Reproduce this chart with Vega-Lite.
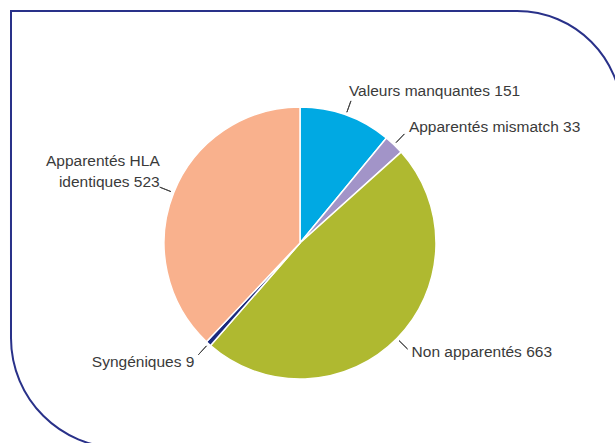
{
  "$schema": "https://vega.github.io/schema/vega-lite/v6.json",
  "width": 611,
  "height": 437,
  "autosize": {"type": "none"},
  "padding": {"left": 11, "top": 11, "right": 0, "bottom": 0},
  "background": "white",
  "config": {
    "view": {"stroke": null},
    "text": {"font": "Liberation Sans", "fontSize": 15.5, "fill": "#3a3a3a"}
  },
  "data": {
    "values": [
      {"categorie": "Valeurs manquantes", "effectif": 151, "ordre": 1, "libelle": "Valeurs manquantes 151"},
      {"categorie": "Apparentés mismatch", "effectif": 33, "ordre": 2, "libelle": "Apparentés mismatch 33"},
      {"categorie": "Non apparentés", "effectif": 663, "ordre": 3, "libelle": "Non apparentés 663"},
      {"categorie": "Syngéniques", "effectif": 9, "ordre": 4, "libelle": "Syngéniques 9"},
      {"categorie": "Apparentés HLA identiques", "effectif": 523, "ordre": 5, "libelle": ["Apparentés HLA", "identiques 523"]}
    ]
  },
  "layer": [
    {
      "data": {"values": [{}]},
      "mark": {"type": "rect", "filled": false, "stroke": "#293189", "strokeWidth": 2, "cornerRadiusTopRight": 105, "cornerRadiusBottomLeft": 110},
      "encoding": {
        "x": {"datum": 0, "type": "quantitative", "scale": {"domain": [0, 1], "nice": false, "zero": false}, "axis": null},
        "x2": {"datum": 1},
        "y": {"datum": 0, "type": "quantitative", "scale": {"domain": [0, 1], "nice": false, "zero": false}, "axis": null},
        "y2": {"datum": 1}
      }
    },
    {
      "mark": {"type": "arc", "radius": 136, "stroke": "white", "strokeWidth": 1.5},
      "encoding": {
        "theta": {"field": "effectif", "type": "quantitative", "stack": true},
        "order": {"field": "ordre", "type": "quantitative"},
        "color": {
          "field": "categorie", "type": "nominal", "legend": null,
          "scale": {
            "domain": ["Valeurs manquantes", "Apparentés mismatch", "Non apparentés", "Syngéniques", "Apparentés HLA identiques"],
            "range": ["#00a9e3", "#a294c8", "#afb930", "#1c2a7e", "#f9b18d"]
          }
        },
        "x": {"datum": 0.473, "type": "quantitative"},
        "y": {"datum": 0.469, "type": "quantitative"}
      }
    },
    {
      "mark": {"type": "arc", "radius": 151, "radius2": 139, "padAngle": 3, "filled": false, "stroke": "#444444", "strokeWidth": 1},
      "encoding": {
        "theta": {"field": "effectif", "type": "quantitative", "stack": true},
        "order": {"field": "ordre", "type": "quantitative"},
        "x": {"datum": 0.473, "type": "quantitative"},
        "y": {"datum": 0.469, "type": "quantitative"}
      }
    },
    {
      "mark": {"type": "text", "radius": 151, "align": "left", "baseline": "alphabetic", "dx": -2, "dy": -5},
      "encoding": {
        "theta": {"field": "effectif", "type": "quantitative", "stack": true},
        "order": {"field": "ordre", "type": "quantitative"},
        "x": {"datum": 0.473, "type": "quantitative"},
        "y": {"datum": 0.469, "type": "quantitative"},
        "text": {"condition": {"test": "datum.categorie === 'Valeurs manquantes'", "field": "libelle", "type": "nominal"}, "value": ""}
      }
    },
    {
      "mark": {"type": "text", "radius": 151, "align": "left", "baseline": "alphabetic", "dx": 4.5, "dy": -2},
      "encoding": {
        "theta": {"field": "effectif", "type": "quantitative", "stack": true},
        "order": {"field": "ordre", "type": "quantitative"},
        "x": {"datum": 0.473, "type": "quantitative"},
        "y": {"datum": 0.469, "type": "quantitative"},
        "text": {"condition": {"test": "datum.categorie === 'Apparentés mismatch'", "field": "libelle", "type": "nominal"}, "value": ""}
      }
    },
    {
      "mark": {"type": "text", "radius": 151, "align": "left", "baseline": "alphabetic", "dx": 4, "dy": 8},
      "encoding": {
        "theta": {"field": "effectif", "type": "quantitative", "stack": true},
        "order": {"field": "ordre", "type": "quantitative"},
        "x": {"datum": 0.473, "type": "quantitative"},
        "y": {"datum": 0.469, "type": "quantitative"},
        "text": {"condition": {"test": "datum.categorie === 'Non apparentés'", "field": "libelle", "type": "nominal"}, "value": ""}
      }
    },
    {
      "mark": {"type": "text", "radius": 151, "align": "right", "baseline": "alphabetic", "dx": -4, "dy": 12},
      "encoding": {
        "theta": {"field": "effectif", "type": "quantitative", "stack": true},
        "order": {"field": "ordre", "type": "quantitative"},
        "x": {"datum": 0.473, "type": "quantitative"},
        "y": {"datum": 0.469, "type": "quantitative"},
        "text": {"condition": {"test": "datum.categorie === 'Syngéniques'", "field": "libelle", "type": "nominal"}, "value": ""}
      }
    },
    {
      "mark": {"type": "text", "radius": 151, "align": "right", "baseline": "alphabetic", "dx": 0, "dy": -21, "lineHeight": 21},
      "encoding": {
        "theta": {"field": "effectif", "type": "quantitative", "stack": true},
        "order": {"field": "ordre", "type": "quantitative"},
        "x": {"datum": 0.473, "type": "quantitative"},
        "y": {"datum": 0.469, "type": "quantitative"},
        "text": {"condition": {"test": "datum.categorie === 'Apparentés HLA identiques'", "field": "libelle", "type": "nominal"}, "value": ""}
      }
    }
  ]
}
